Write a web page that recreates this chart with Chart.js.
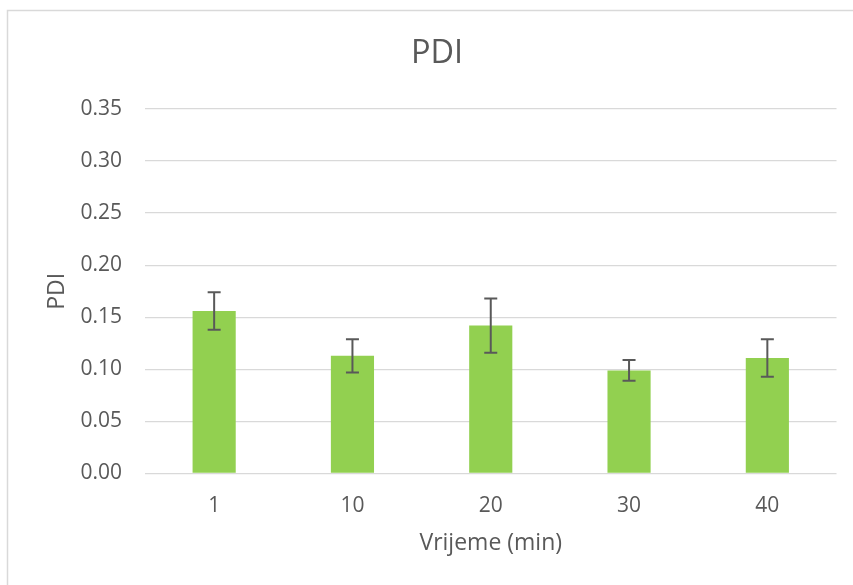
<!DOCTYPE html>
<html>
<head>
<meta charset="utf-8">
<title>PDI</title>
<script src="https://cdn.jsdelivr.net/npm/chart.js@4.4.1/dist/chart.umd.min.js"></script>
<style>
    html, body { margin: 0; padding: 0; background: #ffffff; }
    #wrap { width: 853px; height: 585px; }
</style>
</head>
<body>
<div id="wrap"><canvas id="pdiChart" width="853" height="585"></canvas></div>
<script>
// Data
var timeLabels = ['1', '10', '20', '30', '40'];
var pdiMean = [0.156, 0.113, 0.142, 0.099, 0.111];
var pdiSd = [0.018, 0.016, 0.026, 0.010, 0.018];
var yTicks = [0, 0.05, 0.10, 0.15, 0.20, 0.25, 0.30, 0.35];

var textColor = '#595959';
var gridColor = '#d9d9d9';
var fontFamily = '"Open Sans", "Noto Sans", sans-serif';

// Outer chart border (like the Excel chart frame)
var frameBorder = {
    id: 'frameBorder',
    beforeDraw: function(chart) {
        var ctx = chart.ctx;
        ctx.save();
        ctx.fillStyle = '#ffffff';
        ctx.fillRect(0, 0, chart.width, chart.height);
        ctx.strokeStyle = gridColor;
        ctx.lineWidth = 1.5;
        ctx.strokeRect(7.5, 10.5, chart.width + 10, chart.height + 10);
        ctx.restore();
    }
};

// Error bars (mean +/- sd), drawn through the chart's scales
var errorBars = {
    id: 'errorBars',
    afterDatasetsDraw: function(chart) {
        var ctx = chart.ctx;
        var meta = chart.getDatasetMeta(0);
        var yScale = chart.scales.y;
        var capHalf = 6.5;
        ctx.save();
        ctx.strokeStyle = '#595959';
        ctx.lineWidth = 2;
        meta.data.forEach(function(bar, i) {
            var x = bar.x;
            var yHi = yScale.getPixelForValue(pdiMean[i] + pdiSd[i]);
            var yLo = yScale.getPixelForValue(pdiMean[i] - pdiSd[i]);
            ctx.beginPath();
            ctx.moveTo(x, yHi);
            ctx.lineTo(x, yLo);
            ctx.moveTo(x - capHalf, yHi);
            ctx.lineTo(x + capHalf, yHi);
            ctx.moveTo(x - capHalf, yLo);
            ctx.lineTo(x + capHalf, yLo);
            ctx.stroke();
        });
        ctx.restore();
    }
};

var ctx = document.getElementById('pdiChart').getContext('2d');
var pdiChart = new Chart(ctx, {
    type: 'bar',
    data: {
        labels: timeLabels,
        datasets: [
            {
                label: 'PDI',
                data: pdiMean,
                backgroundColor: '#92d050',
                borderWidth: 0,
                barPercentage: 0.312,
                categoryPercentage: 1
            }
        ]
    },
    options: {
        responsive: false,
        animation: false,
        devicePixelRatio: 1,
        layout: {
            // left padding shifts the chart title to the reference centre
            padding: { left: 37.5, right: 16.5, top: 0, bottom: 0 }
        },
        plugins: {
            legend: { display: false },
            tooltip: { enabled: false },
            title: {
                display: true,
                text: 'PDI',
                color: textColor,
                font: { family: fontFamily, size: 32.5, weight: 'normal' },
                padding: { top: 34.5, bottom: 35.5 }
            }
        },
        scales: {
            x: {
                grid: { display: false, drawTicks: false },
                border: { display: false },
                ticks: {
                    color: textColor,
                    font: { family: fontFamily, size: 21 },
                    padding: 20
                },
                title: {
                    display: true,
                    text: 'Vrijeme (min)',
                    color: textColor,
                    font: { family: fontFamily, size: 23 },
                    padding: { top: 0, bottom: 28 }
                },
                afterFit: function(scale) {
                    scale.height = 111.5;
                }
            },
            y: {
                min: 0,
                max: 0.35,
                grid: { color: gridColor, lineWidth: 1.3, drawTicks: false },
                border: { display: false },
                afterBuildTicks: function(scale) {
                    scale.ticks = yTicks.map(function(v) { return { value: v }; });
                },
                ticks: {
                    color: textColor,
                    font: { family: fontFamily, size: 21 },
                    padding: 23,
                    callback: function(value) {
                        return Number(value).toFixed(2);
                    }
                },
                title: {
                    display: true,
                    text: 'PDI',
                    color: textColor,
                    font: { family: fontFamily, size: 23 },
                    padding: { top: 6, bottom: 0 }
                },
                afterFit: function(scale) {
                    scale.width = 107.5;
                }
            }
        }
    },
    plugins: [frameBorder, errorBars]
});
</script>
</body>
</html>
